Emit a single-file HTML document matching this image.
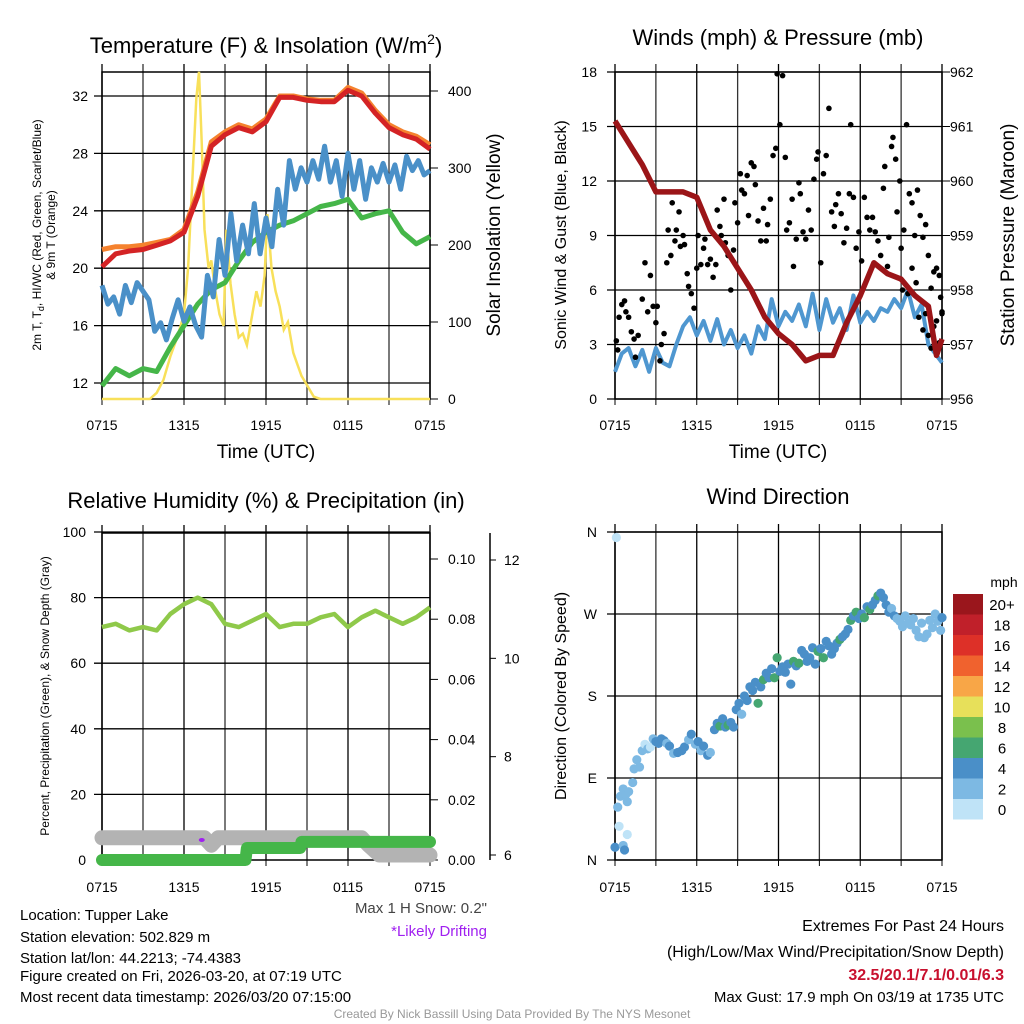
<!DOCTYPE html>
<html><head><meta charset="utf-8"><style>
html,body{margin:0;padding:0;background:#fff;}
svg{display:block;font-family:"Liberation Sans",Arial,sans-serif;}
</style></head><body>
<svg id="c" width="1024" height="1024" viewBox="0 0 1024 1024" xmlns="http://www.w3.org/2000/svg"></svg>
<script>
// ---------- DATA ----------
const xTickLabels = ["0715","1315","1915","0115","0715"];
const tempTicks = [12,16,20,24,28,32];
const solarTicks = [0,100,200,300,400];
const windTicks = [0,3,6,9,12,15,18];
const presTicks = [956,957,958,959,960,961,962];
const rhTicks = [0,20,40,60,80,100];
const precipTicks = [0,0.02,0.04,0.06,0.08,0.10];
const snowTicks = [6,8,10,12];
const dirTicks = ["N","E","S","W","N"];
const cbarLabels = ["0","2","4","6","8","10","12","14","16","18","20+"];
const cbarColors = ["#bfe3f7","#7db9e3","#4a8fc8","#45a671","#7ac04d","#e7e05a","#f8a647","#f0622e","#dd3028","#c0202a","#9a161c"];

// hourly temperatures (0..24 h)
const tempRed = [20.1,21.0,21.2,21.3,21.6,21.9,22.5,25.0,28.5,29.3,29.8,29.5,30.2,31.9,31.9,31.7,31.6,31.6,32.4,32.0,30.8,29.8,29.3,29.0,28.3];
const tempOrange = [21.3,21.5,21.5,21.6,21.8,22.0,22.7,25.3,28.8,29.5,30.0,29.7,30.4,32.0,32.0,31.8,31.7,31.7,32.6,32.2,31.0,30.0,29.5,29.2,28.6];
const tempGreen = [11.8,13.0,12.5,13.0,12.8,14.5,16.0,17.5,18.5,19.0,20.5,21.8,22.5,23.0,23.3,23.8,24.3,24.5,24.8,23.5,23.8,24.0,22.5,21.7,22.2];
// half-hourly HI/WC (blue)
const tempBlue = [18.8,17.5,18.0,16.8,18.8,17.6,19.0,18.4,17.8,15.6,16.2,15.0,16.5,17.8,16.3,17.3,16.0,15.2,19.5,18.0,22.0,19.5,23.8,20.5,23.0,21.0,24.5,21.0,23.5,21.5,25.5,23.0,27.5,25.5,27.0,26.0,27.5,26.2,28.5,26.0,27.5,25.0,28.0,25.5,27.5,24.8,27.0,26.0,27.3,26.0,27.2,25.5,27.8,26.8,27.5,26.5,26.8];
const solarT = [0,3.5,4,4.5,5,5.5,6,6.3,6.6,6.9,7.1,7.3,7.5,7.8,8.0,8.3,8.6,8.9,9.1,9.4,9.7,10.0,10.3,10.6,11.0,11.3,11.6,11.9,12.1,12.4,12.7,13.0,13.3,13.6,14.0,14.3,14.6,15.0,15.5,16,24];
const solarW = [0,0,8,25,55,80,110,170,280,390,425,330,220,170,180,140,110,95,220,150,110,80,85,70,110,140,120,160,240,170,140,120,90,100,60,45,30,18,3,0,0];

// winds
const windSpd = [1.5,2.5,2.8,1.8,2.7,1.5,2.8,2.0,1.8,3.0,4.0,4.5,3.5,4.3,3.2,4.4,3.0,3.8,2.8,3.5,2.5,4.0,3.3,5.5,4.0,4.8,4.3,5.2,4.0,5.8,3.8,5.5,4.2,5.0,3.8,5.7,4.2,4.8,4.3,5.0,4.8,5.5,5.0,6.0,4.5,5.2,3.0,2.5,2.0];
const gustT = [0.1,0.2,0.3,0.5,0.7,0.8,1.0,1.2,1.4,1.5,1.7,2.0,2.2,2.4,2.6,2.8,3.0,3.1,3.3,3.4,3.6,3.8,3.9,4.1,4.2,4.4,4.5,4.7,4.8,5.0,5.1,5.3,5.4,5.6,5.8,6.0,6.1,6.3,6.5,6.6,6.8,7.0,7.2,7.4,7.5,7.7,7.8,8.0,8.1,8.3,8.5,8.7,8.8,9.0,9.2,9.3,9.5,9.7,9.8,10.0,10.2,10.3,10.5,10.7,10.9,11.1,11.2,11.4,11.6,11.8,11.9,12.1,12.3,12.5,12.6,12.8,13.0,13.1,13.3,13.5,13.6,13.8,14.0,14.2,14.4,14.6,14.8,14.9,15.1,15.3,15.5,15.7,15.9,16.1,16.2,16.4,16.6,16.8,17.0,17.2,17.3,17.5,17.7,17.9,18.1,18.3,18.5,18.7,18.9,19.1,19.3,19.5,19.7,19.8,20.0,20.1,20.3,20.4,20.6,20.7,20.9,21.0,21.2,21.4,21.6,21.8,22.0,22.2,22.4,22.6,22.8,23.0,23.2,23.4,23.6,23.8,23.9,24.0,22.3,22.6,22.8,23.0,23.2,23.4,23.6,23.8,24.0,21.5,21.8,22.1,21.1];
const gustV = [3.2,2.7,4.5,5.2,5.4,4.8,4.5,3.7,3.3,2.3,3.5,5.5,7.5,4.8,6.8,5.1,4.2,5.1,2.1,3.0,3.6,7.5,9.3,7.9,10.8,8.7,9.3,10.3,8.4,9.0,8.5,6.9,6.2,5.8,5.0,7.2,9.0,7.4,8.3,8.8,7.4,7.7,6.7,7.4,10.4,9.5,9.0,11.0,8.6,7.9,6.0,8.2,10.8,9.7,12.4,11.5,11.3,12.3,10.1,13.0,12.8,11.8,9.8,8.7,10.5,8.7,9.6,11.0,13.4,13.8,17.9,15.1,17.8,13.3,9.3,9.7,11.0,7.3,8.8,11.9,11.3,9.2,8.8,10.4,9.3,12.1,13.2,13.6,7.5,12.4,13.4,16.0,10.3,9.5,10.7,11.3,10.2,8.6,9.4,11.3,15.1,11.1,8.3,9.2,7.6,11.1,10.0,9.3,10.0,9.2,8.7,7.9,11.6,12.8,7.3,8.9,13.9,14.4,13.2,10.3,12.0,8.3,9.3,15.1,11.3,10.8,9.0,11.5,10.1,8.9,9.6,7.9,6.1,7.0,7.2,6.8,5.6,4.8,4.5,3.8,4.7,3.5,2.8,4.0,4.3,3.1,4.7,5.8,7.2,6.4,6.0];
const presT = [0,1,2,3,4,5,6,7,8,9,10,11,12,13,14,15,16,17,18,19,20,21,22,23,23.6,24];
const presMb = [961.1,960.7,960.3,959.8,959.8,959.8,959.7,959.1,958.8,958.4,958.0,957.5,957.2,957.0,956.7,956.8,956.8,957.4,957.9,958.5,958.3,958.2,957.9,957.7,956.8,957.1];

// RH / precip / snow
const rh = [71,72,70,71,70,75,78,80,78,72,71,73,75,71,72,72,74,75,71,74,76,74,72,74,77];
const precipT = [0,10.5,10.6,14.5,14.6,24];
const precipIn = [0,0,0.004,0.004,0.006,0.006];
const snowT = [0,7.5,8.0,8.5,9.0,19,19.5,20.3,21,24];
const snowIn = [6.35,6.35,6.2,6.35,6.35,6.35,6.2,6.0,6.0,6.0];

// wind direction scatter: time (h), degrees, speed (mph)
const dirT = [0.1,0.0,0.3,0.6,0.7,0.9,0.2,0.4,0.6,0.8,1.0,0.9,1.3,1.4,1.6,1.8,2.0,2.2,2.4,2.6,2.8,3.0,3.2,3.4,3.6,3.8,4.0,4.3,4.6,4.9,5.1,5.4,5.6,5.9,6.1,6.3,6.5,6.8,7.0,7.3,7.5,7.7,7.9,8.1,8.3,8.5,8.7,8.9,9.1,9.3,9.5,9.7,9.9,10.1,10.3,10.5,10.7,10.9,11.1,11.3,11.5,11.7,11.9,12.1,12.3,12.5,12.7,12.9,13.1,13.3,13.5,13.7,13.9,14.1,14.3,14.5,14.7,14.9,15.1,15.3,15.5,15.7,15.9,16.1,16.3,16.5,16.7,16.9,17.1,17.3,17.5,17.7,17.9,18.1,18.3,18.5,18.7,18.9,19.1,19.3,19.5,19.7,19.9,20.1,20.3,20.5,20.7,20.9,21.1,21.3,21.5,21.7,21.9,22.1,22.3,22.5,22.7,22.9,23.1,23.3,23.5,23.7,23.9,24.0];
const dirDeg = [354,14,37,16,11,28,58,70,78,72,75,64,85,100,110,102,120,127,122,124,133,130,128,133,131,128,125,117,118,120,124,132,138,127,130,120,125,115,118,143,150,147,155,146,148,151,146,165,172,160,180,175,190,186,195,172,190,198,205,200,210,200,222,207,212,206,215,193,218,213,216,230,226,218,222,233,215,229,232,222,240,235,226,232,238,242,245,248,253,263,268,272,265,270,266,278,275,280,285,290,293,288,280,272,276,268,265,262,256,268,260,258,265,252,245,260,244,248,263,255,270,262,252,266];
const dirSpd = [0.5,4,0.5,2,4,0.5,2,2,2,2,2,2,2,2,2,2,2,0.5,2,0.5,2,4,4,4,4,2,4,2,4,4,4,2,4,2,4,2,4,4,2,4,4,6,4,4,6,4,4,4,4,2,4,4,4,4,4,6,4,6,4,4,4,6,6,4,4,4,4,4,6,4,6,4,4,4,4,4,4,6,4,6,4,4,4,4,4,6,4,4,4,6,4,6,4,4,6,4,6,4,4,6,4,4,4,4,2,4,2,2,2,2,2,2,2,2,2,2,2,2,2,2,2,2,2,4];

// ---------- DRAW ----------
const NS="http://www.w3.org/2000/svg";
const svg=document.getElementById('c');
function el(tag,attrs,parent){const e=document.createElementNS(NS,tag);for(const k in attrs)e.setAttribute(k,attrs[k]);(parent||svg).appendChild(e);return e;}
function txt(s,x,y,attrs,parent){const t=el('text',Object.assign({x:x,y:y,fill:'#000'},attrs),parent);t.textContent=s;return t;}
function lin(d0,d1,r0,r1){return v=>r0+(v-d0)/(d1-d0)*(r1-r0);}
function pathFrom(xs,ys){return xs.map((x,i)=>(i?'L':'M')+x.toFixed(1)+' '+ys[i].toFixed(1)).join(' ');}
function evenT(arr){return arr.map((_,i)=>i*24/(arr.length-1));}

function frame(name,L,R,T,B,ty){
  const g=el('g',{});
  
  
  for(let i=0;i<=8;i++){const x=L+i*(R-L)/8;el('line',{x1:x,y1:T-8,x2:x,y2:B,stroke:i%2?'#333':'#000','stroke-width':1.3},g);el('line',{x1:x,y1:B,x2:x,y2:B+6,stroke:'#000'},g);}
  ty.forEach(y=>el('line',{x1:L-8,y1:y,x2:R,y2:y,stroke:'#000','stroke-width':1.3},g));
  el('rect',{x:L,y:T,width:R-L,height:B-T,fill:'none',stroke:'#000','stroke-width':1.5},g);
  return g;
}
function xLabels(L,R,y,g){
  const xs=lin(0,24,L,R);
  xTickLabels.forEach((s,i)=>{const t=txt(s,xs(i*6),y,{'font-size':14,'text-anchor':'middle'},g);
    
    });
}

// ===== Panel 1 =====
{
const L=102,R=430,T=72,B=399;
const xs=lin(0,24,L,R), yT=lin(12,32,383,96), yS=lin(0,400,399,91);
const g=frame('temperature-panel',L,R,T,B,tempTicks.map(yT));
tempTicks.forEach(v=>{const t=txt(String(v),88,yT(v)+5,{'font-size':14,'text-anchor':'end'},g);});
solarTicks.forEach(v=>{el('line',{x1:R,y1:yS(v),x2:R+8,y2:yS(v),stroke:'#000'},g);const t=txt(String(v),R+18,yS(v)+5,{'font-size':14},g);});
xLabels(L,R,430,g);
const ts=evenT(tempRed);
const yel=el('path',{d:pathFrom(solarT.map(xs),solarW.map(yS)),fill:'none',stroke:'#f8e05a','stroke-width':2.5});

const gr=el('path',{d:pathFrom(ts.map(xs),tempGreen.map(yT)),fill:'none',stroke:'#45b649','stroke-width':5,'stroke-linejoin':'round'});

const bl=el('path',{d:pathFrom(evenT(tempBlue).map(xs),tempBlue.map(yT)),fill:'none',stroke:'#4a90c8','stroke-width':5,'stroke-linejoin':'round'});

const or=el('path',{d:pathFrom(ts.map(xs),tempOrange.map(yT)),fill:'none',stroke:'#f5822e','stroke-width':5,'stroke-linejoin':'round'});

const rd=el('path',{d:pathFrom(ts.map(xs),tempRed.map(yT)),fill:'none',stroke:'#d42325','stroke-width':5,'stroke-linejoin':'round'});

const t1=el('text',{x:266,y:53,'font-size':22,'text-anchor':'middle'});t1.innerHTML='Temperature (F) &amp; Insolation (W/m<tspan dy="-9" font-size="14">2</tspan><tspan dy="9">)</tspan>';

const xl=txt('Time (UTC)',266,458,{'font-size':19,'text-anchor':'middle'});
const yl=el('text',{x:0,y:0,'font-size':12,'text-anchor':'middle',transform:'translate(41,235) rotate(-90)'});
yl.innerHTML='2m T, T<tspan dy="3" font-size="9">d</tspan><tspan dy="-3">, HI/WC (Red, Green, Scarlet/Blue)</tspan>';

const yl2=txt('& 9m T (Orange)',0,0,{'font-size':12,'text-anchor':'middle',transform:'translate(55,235) rotate(-90)'});

const yr=txt('Solar Insolation (Yellow)',0,0,{'font-size':19,'text-anchor':'middle',transform:'translate(500,235) rotate(-90)'});

}

// ===== Panel 2 =====
{
const L=615,R=942,T=72,B=399;
const xs=lin(0,24,L,R), yW=lin(0,18,399,72), yP=lin(956,962,399,72);
const g=frame('wind-panel',L,R,T,B,windTicks.map(yW));
windTicks.forEach(v=>{const t=txt(String(v),597,yW(v)+5,{'font-size':14,'text-anchor':'end'},g);});
presTicks.forEach(v=>{el('line',{x1:R,y1:yP(v),x2:R+8,y2:yP(v),stroke:'#000'},g);const t=txt(String(v),R+8,yP(v)+5,{'font-size':14},g);});
xLabels(L,R,430,g);
const bl=el('path',{d:pathFrom(evenT(windSpd).map(xs),windSpd.map(yW)),fill:'none',stroke:'#4f97d0','stroke-width':4,'stroke-linejoin':'round'});

gustT.forEach((h,i)=>{const c=el('circle',{cx:xs(h),cy:yW(gustV[i]),r:2.8,fill:'#000'});

});
const pr=el('path',{d:pathFrom(presT.map(xs),presMb.map(yP)),fill:'none',stroke:'#9b1518','stroke-width':5.5,'stroke-linejoin':'round'});

const t=txt('Winds (mph) & Pressure (mb)',778,45,{'font-size':22,'text-anchor':'middle'});
const xl=txt('Time (UTC)',778,458,{'font-size':19,'text-anchor':'middle'});
const yl=txt('Sonic Wind & Gust (Blue, Black)',0,0,{'font-size':16,'text-anchor':'middle',transform:'translate(566,235) rotate(-90)'});
const yr=txt('Station Pressure (Maroon)',0,0,{'font-size':19,'text-anchor':'middle',transform:'translate(1014,235) rotate(-90)'});
}

// ===== Panel 3 =====
{
const L=102,R=430,T=533,B=860;
const xs=lin(0,24,L,R), yR=lin(0,100,860,532), yPr=lin(0,0.1,860,559), ySn=lin(6,12,855,560);
const g=frame('humidity-panel',L,R,T,B,rhTicks.slice(1).map(yR));
rhTicks.forEach(v=>{const t=txt(String(v),86,yR(v)+5,{'font-size':14,'text-anchor':'end'},g);});
precipTicks.forEach(v=>{el('line',{x1:R,y1:yPr(v),x2:R+8,y2:yPr(v),stroke:'#000'},g);const t=txt(v.toFixed(2),448,yPr(v)+5,{'font-size':14},g);});
el('line',{x1:490,y1:533,x2:490,y2:860,stroke:'#000','stroke-width':1.5},g);
snowTicks.forEach(v=>{el('line',{x1:490,y1:ySn(v),x2:496,y2:ySn(v),stroke:'#000'},g);const t=txt(String(v),504,ySn(v)+5,{'font-size':14},g);});
xLabels(L,R,892,g);
const sn=el('path',{d:pathFrom(snowT.map(xs),snowIn.map(ySn)),fill:'none',stroke:'#b3b3b3','stroke-width':15,'stroke-linejoin':'round','stroke-linecap':'round'});

const pc=el('path',{d:pathFrom(precipT.map(xs),precipIn.map(yPr)),fill:'none',stroke:'#45b649','stroke-width':12,'stroke-linejoin':'round','stroke-linecap':'round'});

const pd=el('ellipse',{cx:xs(7.3),cy:840,rx:3,ry:2,fill:'#a020f0'});
const rl=el('path',{d:pathFrom(evenT(rh).map(xs),rh.map(yR)),fill:'none',stroke:'#8fc94a','stroke-width':4.5,'stroke-linejoin':'round'});

const t=txt('Relative Humidity (%) & Precipitation (in)',266,508,{'font-size':22,'text-anchor':'middle'});
const yl=txt('Percent, Precipitation (Green), & Snow Depth (Gray)',0,0,{'font-size':12,'text-anchor':'middle',transform:'translate(49,696) rotate(-90)'});
}

// ===== Panel 4 =====
{
const L=615,R=942,T=532,B=860;
const xs=lin(0,24,L,R), yD=lin(0,360,860,532);
const g=frame('direction-panel',L,R,T,B,[0,90,180,270,360].map(yD));
dirTicks.forEach((s,i)=>{const t=txt(s,597,yD(i*90)+5,{'font-size':14,'text-anchor':'end'},g);});
xLabels(L,R,892,g);
dirT.forEach((h,i)=>{const bin=Math.min(10,Math.floor((dirSpd[i]+1)/2));
const c=el('circle',{cx:xs(h),cy:yD(dirDeg[i]),r:4.6,fill:cbarColors[bin]});

});
const t=txt('Wind Direction',778,504,{'font-size':22,'text-anchor':'middle'});
const yl=txt('Direction (Colored By Speed)',0,0,{'font-size':16,'text-anchor':'middle',transform:'translate(566,696) rotate(-90)'});
const cb=el('g',{});
cbarColors.forEach((c,i)=>{const y=594+(10-i)*20.5;el('rect',{x:953,y:y,width:30,height:20.5,fill:c},cb);
const lt=txt(cbarLabels[i],1002,y+16,{'font-size':15,'text-anchor':'middle'},cb);});
const mp=txt('mph',1004,587,{'font-size':14,'text-anchor':'middle'},cb);
}

// ===== footer text =====
const left=["Location: Tupper Lake","Station elevation: 502.829 m","Station lat/lon: 44.2213; -74.4383","Figure created on Fri, 2026-03-20, at 07:19 UTC","Most recent data timestamp: 2026/03/20 07:15:00"];
const ly=[920,942,963,981,1002];
left.forEach((s,i)=>{const t=txt(s,20,ly[i],{'font-size':15});});
{const t=txt('Max 1 H Snow: 0.2"',487,913,{'font-size':15,'text-anchor':'end',fill:'#444'});}
{const t=txt('*Likely Drifting',487,936,{'font-size':15,'text-anchor':'end',fill:'#a020f0'});}
{const t=txt('Extremes For Past 24 Hours',1004,931,{'font-size':16,'text-anchor':'end'});}
{const t=txt('(High/Low/Max Wind/Precipitation/Snow Depth)',1004,957,{'font-size':16,'text-anchor':'end'});}
{const t=txt('32.5/20.1/7.1/0.01/6.3',1004,980,{'font-size':16,'text-anchor':'end',fill:'#c8102e','font-weight':'bold'});}
{const t=txt('Max Gust: 17.9 mph On 03/19 at 1735 UTC',1004,1002,{'font-size':15,'text-anchor':'end'});}
{const t=txt('Created By Nick Bassill Using Data Provided By The NYS Mesonet',512,1018,{'font-size':12,'text-anchor':'middle',fill:'#999'});}
</script>
</body></html>
